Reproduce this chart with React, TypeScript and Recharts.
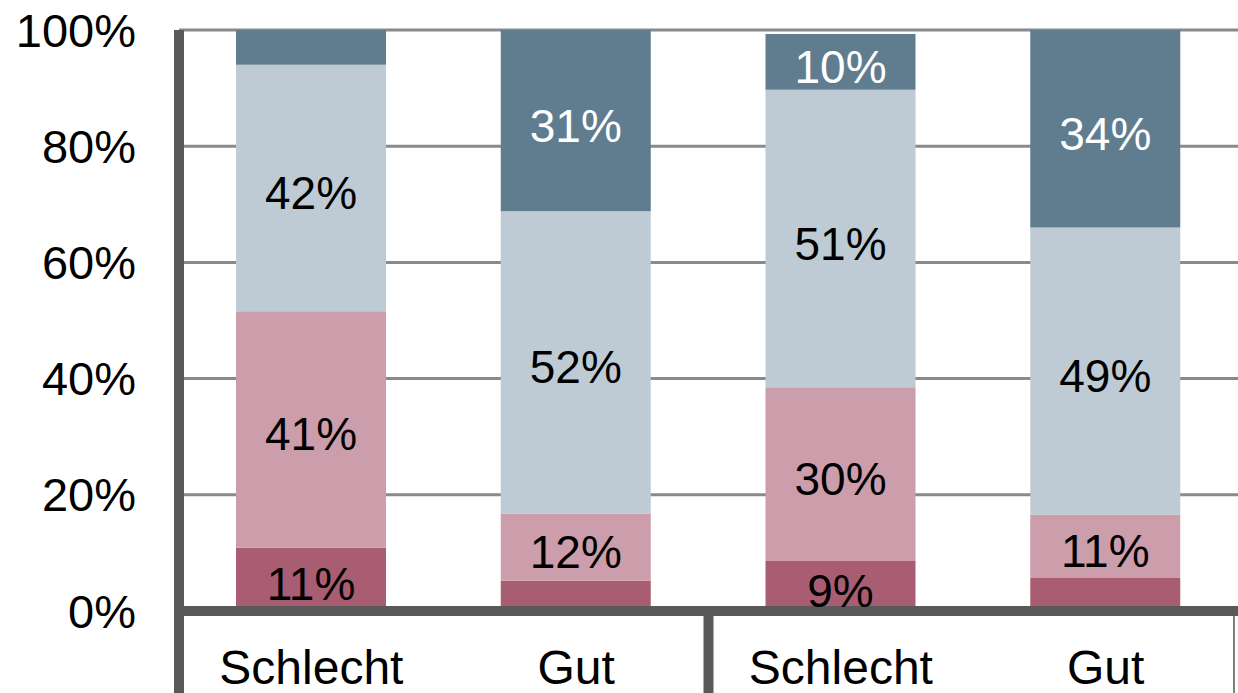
import React from 'react';
import { BarChart, Bar, XAxis, YAxis, CartesianGrid, LabelList } from 'recharts';

// Share of answers per group (percent), stacked bottom -> top
const categories = ['Schlecht', 'Gut', 'Schlecht', 'Gut'];
const darkRed = [10.9, 5.2, 8.6, 5.7];
const pink = [40.7, 11.6, 29.9, 10.9];
const lightBlue = [42.4, 52.0, 51.2, 49.4];
const darkBlue = [6.0, 31.2, 9.6, 34.0];
const yTicks = [0, 20, 40, 60, 80, 100];

const W = 1238;
const H = 693;
const Y_AXIS_W = 179;
const X_AXIS_H = 82;
const TOP = 30;
const PLOT_BOTTOM = H - X_AXIS_H;
const PLOT_W = W - Y_AXIS_W;

const AXIS = '#595959';
const GRID = '#8a8a8a';
const FONT = 46;

const data = categories.map((c, i) => ({
  name: c,
  s1: darkRed[i],
  s2: pink[i],
  s3: lightBlue[i],
  s4: darkBlue[i],
}));

const makeLabel = (color: string) => (props: any) => {
  const x = Number(props.x);
  const y = Number(props.y);
  const width = Number(props.width);
  const height = Number(props.height);
  const value = Number(props.value);
  if (!isFinite(value) || value < 8) return null;
  return (
    <text
      x={x + width / 2}
      y={y + height / 2 + 5}
      textAnchor="middle"
      dominantBaseline="central"
      fontSize={FONT}
      fill={color}
    >
      {Math.round(value)}%
    </text>
  );
};

function CategoryTick(props: any) {
  const { x, index, payload } = props;
  const band = PLOT_W / categories.length;
  const left = x - band / 2;
  const right = x + band / 2;
  return (
    <g>
      {index % 2 === 0 && (
        <line x1={left} x2={left} y1={PLOT_BOTTOM} y2={H} stroke={AXIS} strokeWidth={10} />
      )}
      {index === categories.length - 1 && (
        <line x1={right - 4} x2={right - 4} y1={PLOT_BOTTOM + 5} y2={H} stroke="#7f7f7f" strokeWidth={2} />
      )}
      <text x={x} y={684} textAnchor="middle" fontSize={48} fill="#000">
        {payload.value}
      </text>
    </g>
  );
}

export default function App() {
  return (
    <div
      style={{
        position: 'absolute',
        left: 0,
        top: 0,
        width: W,
        height: H,
        background: '#fff',
        fontFamily: '"Liberation Sans", Arial, sans-serif',
      }}
    >
      <BarChart
        width={W}
        height={H}
        data={data}
        margin={{ top: TOP, right: 0, bottom: 0, left: 0 }}
        barSize={150}
      >
        <CartesianGrid horizontal vertical={false} stroke={GRID} strokeWidth={3} />
        <Bar dataKey="s1" stackId="a" fill="#a85d73" isAnimationActive={false}>
          <LabelList dataKey="s1" content={makeLabel('#000')} />
        </Bar>
        <Bar dataKey="s2" stackId="a" fill="#cc9dab" isAnimationActive={false}>
          <LabelList dataKey="s2" content={makeLabel('#000')} />
        </Bar>
        <Bar dataKey="s3" stackId="a" fill="#becbd4" isAnimationActive={false}>
          <LabelList dataKey="s3" content={makeLabel('#000')} />
        </Bar>
        <Bar dataKey="s4" stackId="a" fill="#5f7d8f" isAnimationActive={false}>
          <LabelList dataKey="s4" content={makeLabel('#fff')} />
        </Bar>
        <YAxis
          width={Y_AXIS_W}
          domain={[0, 100]}
          ticks={yTicks}
          interval={0}
          tickFormatter={(v: number) => `${v}%`}
          axisLine={{ stroke: AXIS, strokeWidth: 10 }}
          tickLine={false}
          tickSize={6}
          tickMargin={37}
          tick={{ fontSize: 47, fill: '#000' }}
        />
        <XAxis
          dataKey="name"
          height={X_AXIS_H}
          interval={0}
          axisLine={{ stroke: AXIS, strokeWidth: 10 }}
          tickLine={false}
          tick={<CategoryTick />}
        />
      </BarChart>
    </div>
  );
}
